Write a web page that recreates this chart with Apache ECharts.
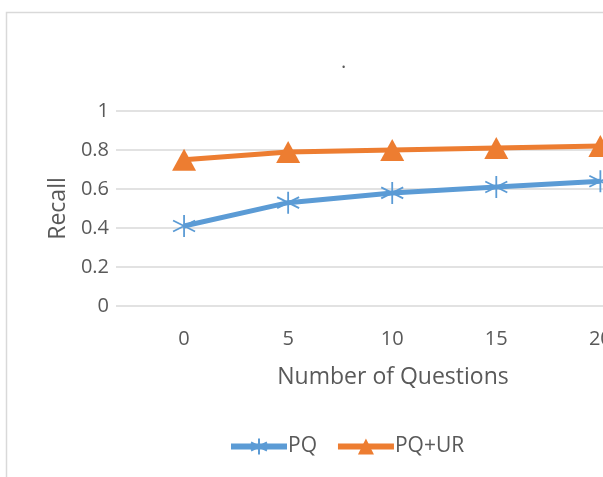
<!DOCTYPE html>
<html>
<head>
<meta charset="utf-8">
<script src="https://cdn.jsdelivr.net/npm/echarts@6/dist/echarts.min.js"></script>
<style>html,body{margin:0;padding:0;background:#fff}#c{width:603px;height:477px}</style>
</head>
<body>
<div id="c"></div>
<script>
var questions = [0, 5, 10, 15, 20];
var pq = [0.41, 0.53, 0.58, 0.61, 0.64];
var pqur = [0.75, 0.79, 0.80, 0.81, 0.82];
var yTicks = [0, 0.2, 0.4, 0.6, 0.8, 1];

var FONT = '"Open Sans", sans-serif';
var TXT = '#595959';
var star = 'path://M0,-10L0,10M-8.7,-5L8.7,5M-8.7,5L8.7,-5';

function pairs(xs, ys) { return xs.map(function (x, i) { return [x, ys[i]]; }); }

var chart = echarts.init(document.getElementById('c'), null, { renderer: 'canvas' });
chart.setOption({
  animation: false,
  backgroundColor: '#ffffff',
  title: {
    text: '.', left: 336, top: 47,
    textStyle: { fontFamily: FONT, fontSize: 20, color: TXT, fontWeight: 'normal' }
  },
  graphic: [{
    type: 'rect', shape: { x: 6.5, y: 12.5, width: 700, height: 600 },
    style: { fill: 'none', stroke: '#d9d9d9', lineWidth: 1.5 }, silent: true, z: -1
  }],
  grid: { left: 116, top: 111, height: 195, width: 526, outerBoundsMode: 'none', containLabel: false },
  legend: {
    bottom: 15, left: 223,
    itemWidth: 56, itemHeight: 20, itemGap: 18,
    lineStyle: { width: 6 },
    textStyle: { fontFamily: FONT, fontSize: 21, color: TXT, padding: [0, 0, 0, -4] },
    data: ['PQ', 'PQ+UR']
  },
  xAxis: {
    type: 'value', min: -3.27, max: 22,
    name: 'Number of Questions', nameLocation: 'middle', nameGap: 60,
    nameTextStyle: { fontFamily: FONT, fontSize: 23, color: TXT, padding: [0, 0, 0, 28] },
    axisLine: { show: false }, axisTick: { show: false }, splitLine: { show: false },
    axisLabel: {
      showMinLabel: false, showMaxLabel: false, margin: 23,
      fontFamily: FONT, fontSize: 20, color: TXT,
      formatter: function (v) { return questions.indexOf(v) >= 0 ? String(v) : ''; }
    }
  },
  yAxis: {
    type: 'value', min: 0, max: 1, interval: 0.2,
    name: 'Recall', nameLocation: 'middle', nameGap: 45,
    nameTextStyle: { fontFamily: FONT, fontSize: 23, color: TXT },
    axisLine: { show: false }, axisTick: { show: false },
    splitLine: { lineStyle: { color: '#d9d9d9', width: 1.5 } },
    axisLabel: {
      margin: 7, fontFamily: FONT, fontSize: 20, color: TXT,
      formatter: function (v) { var t = yTicks.filter(function (k) { return Math.abs(k - v) < 1e-9; }); return t.length ? String(t[0]) : ''; }
    }
  },
  series: [{
    name: 'PQ', type: 'line', data: pairs(questions, pq),
    lineStyle: { color: '#5b9bd5', width: 5 },
    symbol: star, symbolSize: 22,
    itemStyle: { color: '#5b9bd5', borderColor: '#5b9bd5', borderWidth: 1.8 }
  }, {
    name: 'PQ+UR', type: 'line', data: pairs(questions, pqur),
    lineStyle: { color: '#ed7d31', width: 5 },
    symbol: 'triangle', symbolSize: [24, 22],
    itemStyle: { color: '#ed7d31' }
  }]
});
</script>
</body>
</html>
